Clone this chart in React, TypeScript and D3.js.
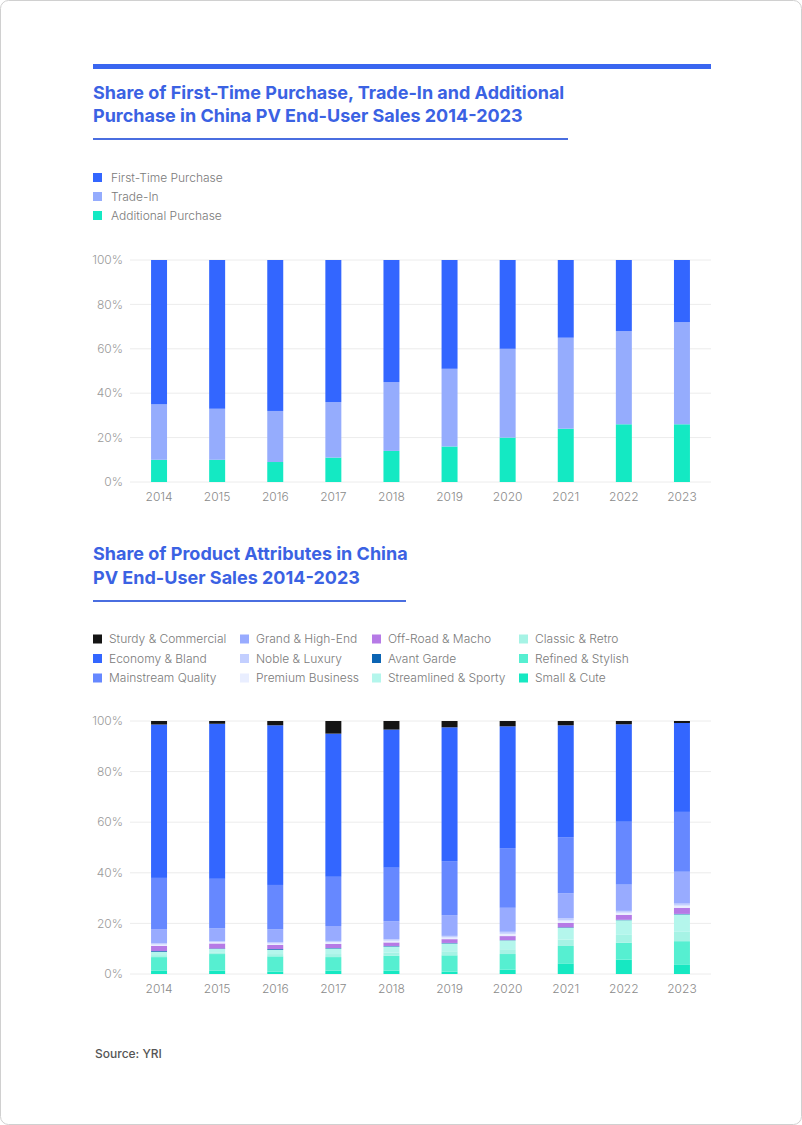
import React from "react";
import * as d3 from "d3";

const years = ["2014", "2015", "2016", "2017", "2018", "2019", "2020", "2021", "2022", "2023"];
const yTicks = [0, 0.2, 0.4, 0.6, 0.8, 1];

// Chart 1
const purchaseKeys = ["Additional Purchase", "Trade-In", "First-Time Purchase"];
const additionalPurchase = [10, 10, 9, 11, 14, 16, 20, 24, 26, 26];
const tradeIn = [25, 23, 23, 25, 31, 35, 40, 41, 42, 46];
const firstTimePurchase = [65, 67, 68, 64, 55, 49, 40, 35, 32, 28];
const purchaseColors = ["#14e9c3", "#95acfd", "#3366ff"];
const purchaseLegend = ["First-Time Purchase", "Trade-In", "Additional Purchase"];
const purchaseLegendColors = ["#3366ff", "#95acfd", "#14e9c3"];

// Chart 2 (bottom to top)
const smallCute = [1.4, 1.3, 0.9, 1.3, 1.3, 0.9, 1.7, 4.2, 5.7, 3.6];
const refinedStylish = [5.3, 6.6, 6.1, 5.4, 5.9, 6.5, 6.2, 6.9, 6.7, 9.4];
const classicRetro = [0.8, 0.7, 0.9, 1.2, 1.3, 1.6, 1.9, 2.5, 3.1, 3.7];
const streamlinedSporty = [1.3, 1.3, 1.7, 2.2, 2.4, 3.1, 3.5, 4.7, 5.8, 6.9];
const avantGarde = [0.3, 0.2, 0.3, 0.2, 0.2, 0.2, 0.1, 0.2, 0.2, 0.2];
const offRoadMacho = [2.0, 2.0, 1.6, 1.6, 1.4, 1.5, 1.6, 1.7, 1.9, 2.4];
const premiumBusiness = [0.6, 0.5, 0.6, 0.7, 0.7, 0.7, 0.9, 1.0, 0.9, 0.9];
const nobleLuxury = [0.5, 0.4, 0.5, 0.5, 0.6, 0.6, 0.8, 0.9, 0.7, 0.8];
const grandHighEnd = [5.6, 5.1, 5.1, 5.9, 7.1, 8.2, 9.5, 9.9, 10.4, 12.6];
const mainstreamQuality = [20.3, 19.6, 17.6, 19.5, 21.2, 21.4, 23.6, 22.2, 24.9, 23.7];
const economyBland = [60.8, 61.4, 63.3, 56.7, 54.7, 53.0, 48.2, 44.3, 38.6, 35.2];
const sturdyCommercial = [1.4, 1.1, 1.7, 5.0, 3.4, 2.5, 2.1, 1.7, 1.3, 0.8];

const attrKeys = [
  "Small & Cute", "Refined & Stylish", "Classic & Retro", "Streamlined & Sporty",
  "Avant Garde", "Off-Road & Macho", "Premium Business", "Noble & Luxury",
  "Grand & High-End", "Mainstream Quality", "Economy & Bland", "Sturdy & Commercial",
];
const attrSeries = [
  smallCute, refinedStylish, classicRetro, streamlinedSporty, avantGarde, offRoadMacho,
  premiumBusiness, nobleLuxury, grandHighEnd, mainstreamQuality, economyBland, sturdyCommercial,
];
const attrColors: Record<string, string> = {
  "Sturdy & Commercial": "#141414",
  "Economy & Bland": "#3366ff",
  "Mainstream Quality": "#6688ff",
  "Grand & High-End": "#98abff",
  "Noble & Luxury": "#c3cfff",
  "Premium Business": "#e9eeff",
  "Off-Road & Macho": "#b67ae6",
  "Avant Garde": "#0b64b3",
  "Streamlined & Sporty": "#b4f6ec",
  "Classic & Retro": "#a6f3e5",
  "Refined & Stylish": "#56efd1",
  "Small & Cute": "#16e8c2",
};
const attrLegendColumns = [
  ["Sturdy & Commercial", "Economy & Bland", "Mainstream Quality"],
  ["Grand & High-End", "Noble & Luxury", "Premium Business"],
  ["Off-Road & Macho", "Avant Garde", "Streamlined & Sporty"],
  ["Classic & Retro", "Refined & Stylish", "Small & Cute"],
];

const FONT = "Inter, 'Noto Sans', sans-serif";
const TITLE_COLOR = "#3b62e3";

type Row = Record<string, number | string>;

function buildRows(keys: string[], series: number[][]): Row[] {
  return years.map((y, i) => {
    const r: Row = { year: y };
    keys.forEach((k, j) => (r[k] = series[j][i]));
    return r;
  });
}

function StackChart({
  top, bottom, keys, series, colors,
}: { top: number; bottom: number; keys: string[]; series: number[][]; colors: string[] }) {
  const left = 130;
  const right = 711;
  const x = d3.scaleBand<string>().domain(years).range([left, right]).paddingInner(0.725).paddingOuter(0.3625);
  const y = d3.scaleLinear().domain([0, 1]).range([bottom, top]);
  const rows = buildRows(keys, series);
  const stacked = d3.stack<Row>().keys(keys).value((d, k) => d[k] as number).offset(d3.stackOffsetExpand)(rows);
  const fmt = d3.format(".0%");
  return (
    <g>
      {yTicks.map((t) => (
        <g key={t}>
          <line x1={left} x2={right} y1={y(t)} y2={y(t)} stroke="#ececec" strokeWidth={1} />
          <text x={123} y={y(t)} dy="0.35em" textAnchor="end" fontSize={12} fill="#9a9a9a" fontFamily={FONT} fontWeight={300}>
            {fmt(t)}
          </text>
        </g>
      ))}
      {stacked.map((s, i) => (
        <g key={s.key} fill={colors[i]}>
          {s.map((d, j) => (
            <rect key={j} x={x(years[j])} width={x.bandwidth()} y={y(d[1])} height={Math.max(0, y(d[0]) - y(d[1]))} />
          ))}
        </g>
      ))}
      {years.map((yr) => (
        <text key={yr} x={(x(yr) as number) + x.bandwidth() / 2} y={bottom + 15} dy="0.35em" textAnchor="middle" fontSize={12} fill="#8a8a8a" fontFamily={FONT} fontWeight={300}>
          {yr}
        </text>
      ))}
    </g>
  );
}

export default function App() {
  const purchaseSeries = [additionalPurchase, tradeIn, firstTimePurchase];
  return (
    <svg width={802} height={1125} style={{ position: "absolute", left: 0, top: 0, background: "#fff" }}>
      <rect x={0.5} y={0.5} width={801} height={1124} rx={8} fill="#fff" stroke="#d0d0d0" />
      <rect x={93} y={64} width={618} height={5} fill="#3a66f0" />
      <text fontFamily={FONT} fontWeight={700} fontSize={18} fill={TITLE_COLOR}>
        <tspan x={93} y={99}>Share of First-Time Purchase, Trade-In and Additional</tspan>
        <tspan x={93} y={122}>Purchase in China PV End-User Sales 2014-2023</tspan>
      </text>
      <rect x={93} y={138} width={475} height={2} fill="#4a6ee0" />
      {purchaseLegend.map((l, i) => (
        <g key={l}>
          <rect x={93} y={173 + i * 19} width={9} height={9} fill={purchaseLegendColors[i]} />
          <text x={111} y={178 + i * 19} dy="0.35em" fontSize={12} fill="#7a7a7a" fontFamily={FONT} fontWeight={300}>{l}</text>
        </g>
      ))}
      <StackChart top={260} bottom={482} keys={purchaseKeys} series={purchaseSeries} colors={purchaseColors} />

      <text fontFamily={FONT} fontWeight={700} fontSize={18} fill={TITLE_COLOR}>
        <tspan x={93} y={560}>Share of Product Attributes in China</tspan>
        <tspan x={93} y={584}>PV End-User Sales 2014-2023</tspan>
      </text>
      <rect x={93} y={600} width={313} height={2} fill="#4a6ee0" />
      {attrLegendColumns.map((col, ci) =>
        col.map((l, ri) => (
          <g key={l}>
            <rect x={[93, 240, 372, 519][ci]} y={634.5 + ri * 19.5} width={9} height={9} fill={attrColors[l]} />
            <text x={[93, 240, 372, 519][ci] + 16} y={639 + ri * 19.5} dy="0.35em" fontSize={12} fill="#7a7a7a" fontFamily={FONT} fontWeight={300}>{l}</text>
          </g>
        ))
      )}
      <StackChart top={721} bottom={974} keys={attrKeys} series={attrSeries} colors={attrKeys.map((k) => attrColors[k])} />

      <text x={95} y={1054} dy="0.35em" fontSize={12} fill="#555" fontFamily={FONT} fontWeight={500}>Source: YRI</text>
    </svg>
  );
}
